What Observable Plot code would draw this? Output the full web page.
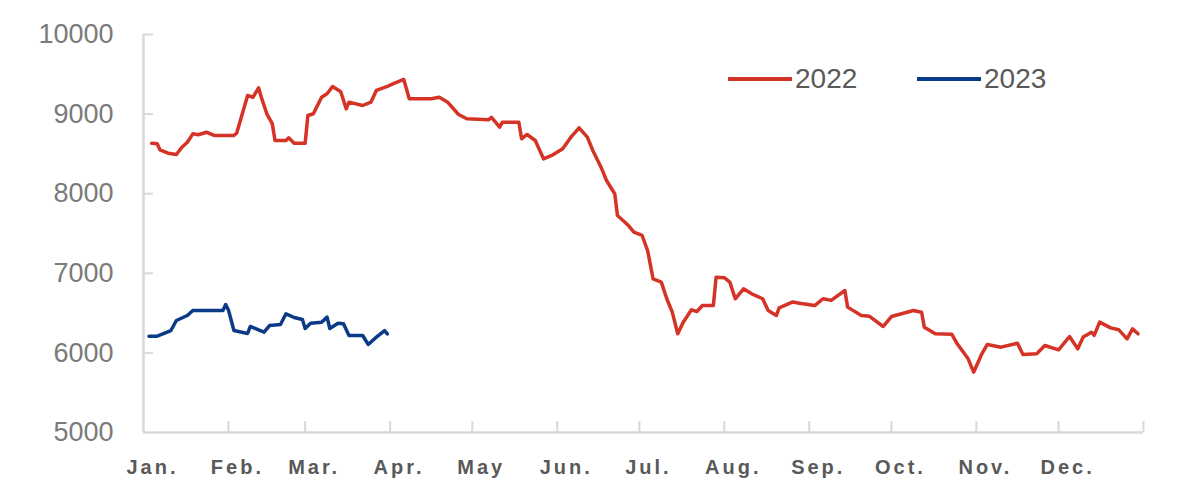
<!DOCTYPE html>
<html>
<head>
<meta charset="utf-8">
<script src="https://cdn.jsdelivr.net/npm/d3@7"></script>
<script src="https://cdn.jsdelivr.net/npm/@observablehq/plot@0.6"></script>
<style>
  html, body { margin: 0; padding: 0; background: #fff; }
  #wrap { position: relative; width: 1200px; height: 492px; }
  #legend { position: absolute; top: 63px; left: 0; width: 1200px; height: 34px; font-family: "Liberation Sans", Arial, sans-serif; font-size: 28px; color: #595959; }
  .lg { position: absolute; display: flex; align-items: center; }
  .sw { display: inline-block; width: 64px; height: 4px; margin-right: 3px; }
  g[aria-label="x-axis tick label"] { font-size: 20px !important; font-weight: bold; }
  g[aria-label="x-axis tick label"] text { letter-spacing: 3px; }
  g[aria-label="y-axis tick label"] { font-size: 27px !important; }
</style>
</head>
<body>
<div id="wrap"><div id="legend"></div></div>
<script>
const months = ["Jan.", "Feb.", "Mar.", "Apr.", "May", "Jun.", "Jul.", "Aug.", "Sep.", "Oct.", "Nov.", "Dec."];
const yTicks = [5000, 6000, 7000, 8000, 9000, 10000];
const seriesNames = ["2022", "2023"];
const seriesColors = ["#d63327", "#0b3a86"];

const dates2022 = ["01-04","01-06","01-07","01-10","01-13","01-15","01-17","01-19","01-21","01-24","01-27","02-03","02-04","02-08","02-10","02-12","02-13","02-15","02-17","02-18","02-22","02-23","02-25","03-01","03-02","03-04","03-07","03-09","03-11","03-14","03-16","03-17","03-22","03-25","03-27","03-31","04-02","04-06","04-08","04-16","04-19","04-22","04-26","04-29","05-07","05-08","05-11","05-12","05-18","05-19","05-21","05-24","05-27","05-30","06-03","06-06","06-09","06-12","06-14","06-17","06-19","06-22","06-23","06-27","06-29","07-02","07-04","07-06","07-09","07-11","07-13","07-15","07-17","07-20","07-22","07-24","07-28","07-29","08-01","08-03","08-05","08-08","08-11","08-15","08-17","08-20","08-21","08-26","08-29","09-03","09-06","09-09","09-14","09-15","09-20","09-23","09-28","10-01","10-09","10-12","10-13","10-17","10-23","10-25","10-29","10-31","11-03","11-05","11-10","11-16","11-18","11-23","11-26","12-01","12-05","12-08","12-10","12-13","12-14","12-16","12-20","12-23","12-26","12-28","12-30"];
const values2022 = [8634,8627,8552,8509,8492,8584,8647,8752,8740,8772,8731,8731,8760,9234,9212,9330,9212,9004,8880,8668,8668,8702,8634,8634,8982,9004,9212,9255,9347,9280,9066,9150,9108,9150,9297,9347,9380,9435,9192,9192,9212,9150,8995,8941,8929,8960,8836,8898,8898,8690,8744,8668,8438,8480,8564,8710,8828,8710,8543,8333,8166,7999,7726,7600,7516,7475,7286,6931,6889,6680,6512,6240,6386,6541,6520,6595,6595,6951,6945,6889,6680,6805,6742,6680,6533,6470,6565,6640,6620,6595,6680,6660,6784,6575,6470,6460,6332,6457,6533,6510,6323,6240,6235,6114,5926,5758,5989,6106,6072,6122,5980,5990,6093,6039,6206,6051,6200,6260,6220,6386,6315,6290,6177,6302,6240];

const dates2023 = ["01-03","01-06","01-11","01-13","01-17","01-19","01-30","01-31","02-01","02-03","02-08","02-09","02-12","02-14","02-16","02-20","02-22","02-25","02-28","03-01","03-03","03-07","03-09","03-10","03-13","03-15","03-17","03-22","03-24","03-27","03-30","03-31"];
const values2023 = [6210,6210,6281,6407,6470,6533,6533,6608,6540,6281,6244,6332,6290,6260,6344,6357,6491,6445,6420,6307,6373,6386,6449,6307,6373,6365,6219,6219,6106,6198,6281,6240];

// both years plotted on a common Jan–Dec axis
const toDate = md => { const [m, d] = md.split("-").map(Number); return new Date(Date.UTC(2022, m - 1, d)); };
const data2022 = dates2022.map((d, i) => ({date: toDate(d), value: values2022[i]}));
const data2023 = dates2023.map((d, i) => ({date: toDate(d), value: values2023[i]}));

const d0 = new Date(Date.UTC(2022, 0, 1));
const d1 = new Date(Date.UTC(2023, 0, 1));
const monthStarts = months.map((m, i) => new Date(Date.UTC(2022, i, 1)));
const tickDates = [...monthStarts, d1];
const axisColor = "#d9d9d9";

const chart = Plot.plot({
  width: 1200,
  height: 492,
  marginLeft: 143,
  marginRight: 57,
  marginTop: 34,
  marginBottom: 60,
  style: {fontFamily: '"Liberation Sans", Arial, sans-serif', background: "#fff", overflow: "visible"},
  x: {type: "utc", domain: [d0, d1]},
  y: {domain: [5000, 10000]},
  marks: [
    Plot.ruleY([5000], {stroke: axisColor, strokeWidth: 2.5}),
    Plot.ruleX([d0], {stroke: axisColor, strokeWidth: 2.5}),
    Plot.tickY(yTicks.slice(1), {y: d => d, stroke: axisColor, strokeWidth: 2, insetRight: 990}),
    Plot.tickX(tickDates.slice(1), {x: d => d, stroke: axisColor, strokeWidth: 2, insetTop: 387}),
    Plot.axisY({ticks: yTicks, tickSize: 0, tickPadding: 30, fontSize: 27, color: "#7a7a7a", label: null, tickFormat: d => String(d)}),
    Plot.axisX({ticks: monthStarts, tickSize: 0, tickPadding: 27, dx: 9, fontSize: 20, fontWeight: "bold", color: "#595959", label: null, tickFormat: d => months[d.getUTCMonth()]}),
    Plot.line(data2022, {x: "date", y: "value", stroke: seriesColors[0], strokeWidth: 3.5}),
    Plot.line(data2023, {x: "date", y: "value", stroke: seriesColors[1], strokeWidth: 3.5})
  ]
});
document.getElementById("wrap").prepend(chart);

// legend overlay
const legend = document.getElementById("legend");
const legendLeft = [728, 917];
seriesNames.forEach((name, i) => {
  const item = document.createElement("div");
  item.className = "lg";
  item.style.left = legendLeft[i] + "px";
  item.innerHTML = `<span class="sw" style="background:${seriesColors[i]}"></span><span>${name}</span>`;
  legend.appendChild(item);
});
</script>
</body>
</html>
